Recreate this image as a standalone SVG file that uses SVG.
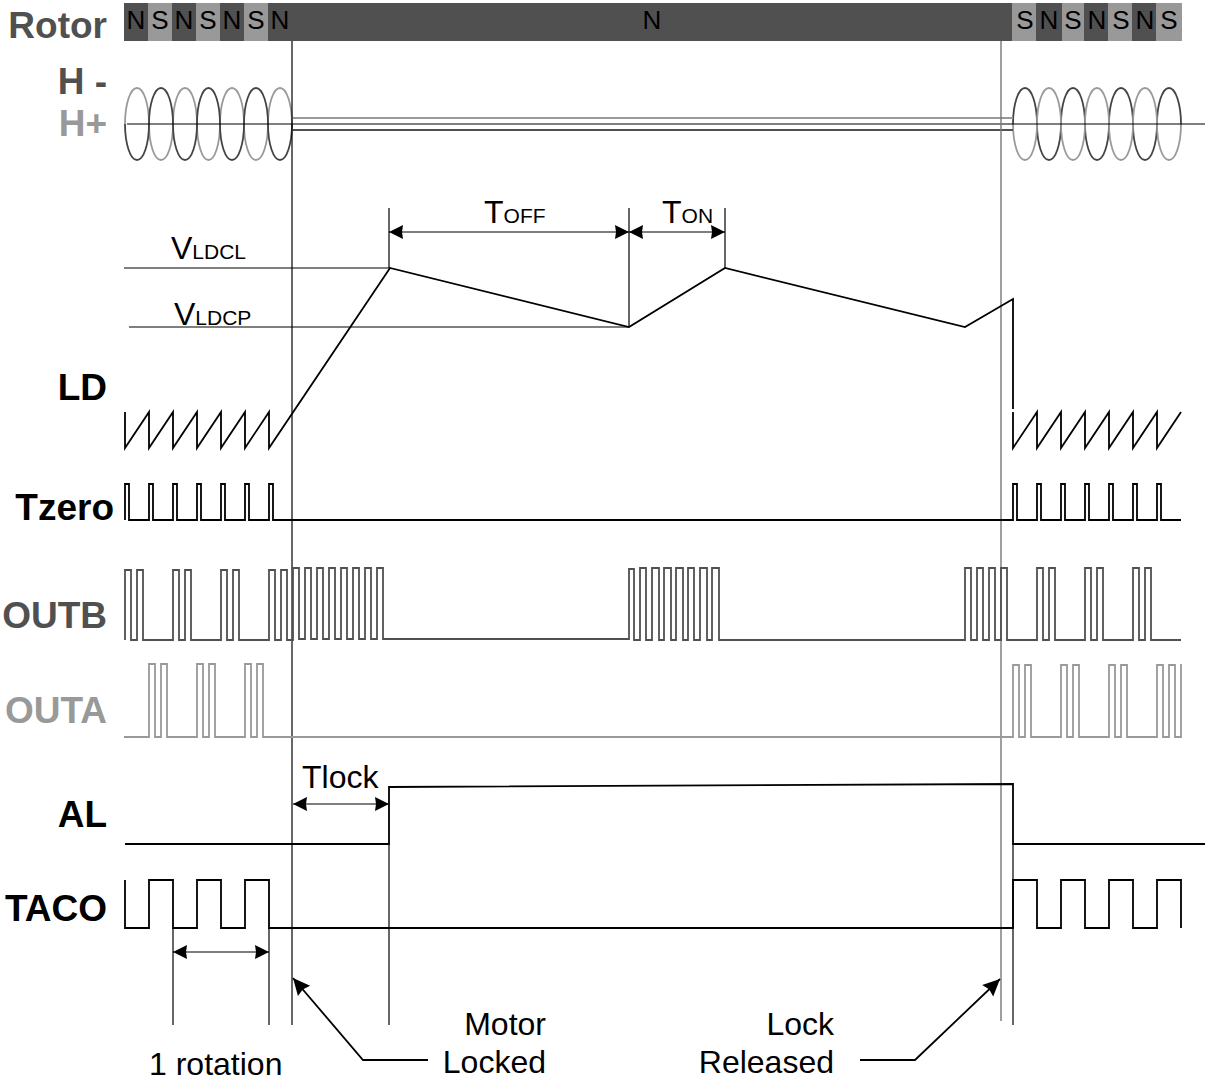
<svg xmlns="http://www.w3.org/2000/svg" width="1205" height="1081" viewBox="0 0 1205 1081">
<style>
text{font-family:"Liberation Sans",Arial,sans-serif;fill:#000}
.lab{font-size:37px;font-weight:bold;text-anchor:end}
.d{fill:#505050}.g{fill:#999}
.pole{font-size:26px;text-anchor:middle}
.t{font-size:32px}
.e{text-anchor:end}
.sub{font-size:21px}
path,polyline,line{fill:none;stroke-linejoin:miter}
.k{stroke:#000;stroke-width:1.8}
.dk{stroke:#505050;stroke-width:1.8}
.gy{stroke:#999;stroke-width:1.8}
.thin{stroke:#000;stroke-width:1.2}
.coilg{stroke:#999;stroke-width:1.8}
.coild{stroke:#444;stroke-width:1.8}
.arr{marker-start:url(#h);marker-end:url(#h)}
.big{marker-start:url(#b)}
</style>
<defs>
<marker id="h" markerUnits="userSpaceOnUse" viewBox="-15 -8 16 16" refX="0" refY="0" markerWidth="16" markerHeight="16" orient="auto-start-reverse"><path d="M0,0L-14,-7L-13,0L-14,7Z" style="fill:#000;stroke:none"/></marker>
<marker id="b" markerUnits="userSpaceOnUse" viewBox="-19 -10 20 20" refX="0" refY="0" markerWidth="20" markerHeight="20" orient="auto-start-reverse"><path d="M0,0L-17,-8L-15,0L-17,8Z" style="fill:#000;stroke:none"/></marker>
</defs>
<g id="rotor">
<rect x="124" y="3" width="1058" height="38" fill="#505050"/>
<g fill="#999"><rect x="148" y="3" width="24" height="38"/><rect x="196" y="3" width="24" height="38"/><rect x="244" y="3" width="24" height="38"/><rect x="1012" y="3" width="24" height="38"/><rect x="1062" y="3" width="22" height="38"/><rect x="1108" y="3" width="24" height="38"/><rect x="1156" y="3" width="26" height="38"/></g>
<g><text x="136" y="29" class="pole">N</text><text x="160" y="29" class="pole">S</text><text x="184" y="29" class="pole">N</text><text x="208" y="29" class="pole">S</text><text x="232" y="29" class="pole">N</text><text x="256" y="29" class="pole">S</text><text x="280" y="29" class="pole">N</text><text x="652" y="29" class="pole">N</text><text x="1025" y="29" class="pole">S</text><text x="1049" y="29" class="pole">N</text><text x="1073" y="29" class="pole">S</text><text x="1097" y="29" class="pole">N</text><text x="1121" y="29" class="pole">S</text><text x="1145" y="29" class="pole">N</text><text x="1169" y="29" class="pole">S</text></g>
</g>
<g id="labels">
<text x="107" y="38" class="lab d">Rotor</text>
<text x="107" y="94" class="lab d">H -</text>
<text x="107" y="136" class="lab g">H+</text>
<text x="107" y="400" class="lab">LD</text>
<text x="114" y="520" class="lab">Tzero</text>
<text x="107" y="628" class="lab d">OUTB</text>
<text x="107" y="723" class="lab g">OUTA</text>
<text x="107" y="827" class="lab">AL</text>
<text x="107" y="921" class="lab">TACO</text>
</g>
<g id="hall">
<path class="coilg" d="M125,124A12,36 0 0 1 149,124M173,124A12,36 0 0 1 197,124M220,124A12,36 0 0 1 244,124M268,124A12,36 0 0 1 292,124M149,124A12,36 0 0 0 173,124M197,124A11.5,36 0 0 0 220,124M244,124A12,36 0 0 0 268,124"/>
<path class="coild" d="M149,124A12,36 0 0 1 173,124M197,124A11.5,36 0 0 1 220,124M244,124A12,36 0 0 1 268,124M125,124A12,36 0 0 0 149,124M173,124A12,36 0 0 0 197,124M220,124A12,36 0 0 0 244,124M268,124A12,36 0 0 0 292,124"/>
<path class="coild" d="M1013,124A12,36 0 0 1 1037,124M1061,124A12,36 0 0 1 1085,124M1109,124A12,36 0 0 1 1133,124M1157,124A12,36 0 0 1 1181,124M1037,124A12,36 0 0 0 1061,124M1085,124A12,36 0 0 0 1109,124M1133,124A12,36 0 0 0 1157,124"/>
<path class="coilg" d="M1037,124A12,36 0 0 1 1061,124M1085,124A12,36 0 0 1 1109,124M1133,124A12,36 0 0 1 1157,124M1013,124A12,36 0 0 0 1037,124M1061,124A12,36 0 0 0 1085,124M1109,124A12,36 0 0 0 1133,124M1157,124A12,36 0 0 0 1181,124"/>
<line class="gy" x1="293" y1="118" x2="1013" y2="118"/>
<line class="dk" x1="293" y1="130" x2="1013" y2="130"/>
<line class="thin" x1="127" y1="124" x2="1205" y2="124"/>
</g>
<g id="connectors">
<line class="thin" x1="292" y1="41" x2="292" y2="1025"/>
<line x1="1001" y1="41" x2="1001" y2="1021" stroke="#777" stroke-width="1.4"/>
<line class="thin" x1="124" y1="268" x2="390" y2="268"/>
<line class="thin" x1="129" y1="327" x2="629" y2="327"/>
<line class="thin" x1="389" y1="208" x2="389" y2="268"/>
<line class="thin" x1="629" y1="208" x2="629" y2="327"/>
<line class="thin" x1="725" y1="208" x2="725" y2="268"/>
<line class="thin arr" x1="389" y1="232" x2="629" y2="232"/>
<line class="thin arr" x1="629" y1="232" x2="725" y2="232"/>
<line class="thin arr" x1="293" y1="804" x2="389" y2="804"/>
<line class="thin" x1="173" y1="928" x2="173" y2="1025"/>
<line class="thin" x1="269" y1="928" x2="269" y2="1025"/>
<line class="thin" x1="389" y1="844" x2="389" y2="1025"/>
<line class="thin" x1="1013" y1="844" x2="1013" y2="1025"/>
<line class="thin arr" x1="173" y1="952" x2="269" y2="952"/>
<polyline class="k big" points="293,978 363,1060 428,1060"/>
<polyline class="k big" points="1000,979 915,1060 860,1060"/>
</g>
<g id="LD">
<polyline class="k" points="125,412 125,448 149,412 149,448 173,412 173,448 197,412 197,448 221,412 221,448 245,412 245,448 269,412 269,448 390,268 629,327 725,268 965,327 1013,299 1013,409"/>
<polyline class="k" points="1013,412 1013,448 1037,412 1037,448 1061,412 1061,448 1085,412 1085,448 1109,412 1109,448 1133,412 1133,448 1157,412 1157,448 1181,412"/>
</g>
<g id="Tzero">
<polyline class="k" points="125,520 125,484 129,484 129,520 149,520 149,484 153,484 153,520 173,520 173,484 177,484 177,520 197,520 197,484 201,484 201,520 221,520 221,484 225,484 225,520 245,520 245,484 249,484 249,520 269,520 269,484 273,484 273,520 1013,520 1013,484 1017,484 1017,520 1037,520 1037,484 1041,484 1041,520 1061,520 1061,484 1065,484 1065,520 1085,520 1085,484 1089,484 1089,520 1109,520 1109,484 1113,484 1113,520 1133,520 1133,484 1137,484 1137,520 1157,520 1157,484 1161,484 1161,520 1181,520"/>
</g>
<g id="OUTB">
<polyline class="dk" points="125,640 125,570 131,570 131,640 137,640 137,570 143,570 143,640 173,640 173,570 179,570 179,640 185,640 185,570 191,570 191,640 221,640 221,570 227,570 227,640 233,640 233,570 239,570 239,640 269,640 269,570 275,570 275,640 281,640 281,570 287,570 287,640 293,640 293,568 299,568 299,639 305,639 305,568 311,568 311,639 317,639 317,568 323,568 323,639 329,639 329,568 335,568 335,639 341,639 341,568 347,568 347,639 353,639 353,568 359,568 359,639 365,639 365,568 371,568 371,639 377,639 377,568 383,568 383,639 629,639 629,569 634,569 634,640 640,640 640,568 646,568 646,640 652,640 652,568 659,568 659,640 664,640 664,568 671,568 671,640 676,640 676,568 683,568 683,640 688,640 688,568 694,568 694,640 700,640 700,568 707,568 707,640 712,640 712,568 719,568 719,640 965,640 965,568 971,568 971,640 977,640 977,568 983,568 983,640 989,640 989,568 995,568 995,640 1001,640 1001,568 1007,568 1007,640 1037,640 1037,568 1043,568 1043,640 1049,640 1049,568 1055,568 1055,640 1085,640 1085,568 1091,568 1091,640 1097,640 1097,568 1103,568 1103,640 1133,640 1133,568 1139,568 1139,640 1145,640 1145,568 1151,568 1151,640 1181,640"/>
</g>
<g id="OUTA">
<polyline class="gy" points="124,737 149,737 149,664 155,664 155,737 161,737 161,664 167,664 167,737 197,737 197,664 203,664 203,737 209,737 209,664 215,664 215,737 245,737 245,664 251,664 251,737 257,737 257,664 263,664 263,737 1013,737 1013,665 1019,665 1019,737 1025,737 1025,665 1031,665 1031,737 1061,737 1061,665 1067,665 1067,737 1073,737 1073,665 1079,665 1079,737 1109,737 1109,665 1115,665 1115,737 1121,737 1121,665 1127,665 1127,737 1157,737 1157,665 1163,665 1163,737 1169,737 1169,665 1175,665 1175,737 1181,737 1181,664"/>
</g>
<g id="AL">
<polyline class="k" points="125,844 389,844 389,787 1013,784 1013,844 1205,844"/>
</g>
<g id="TACO">
<polyline class="k" points="125,880 125,928 149,928 149,880 173,880 173,928 197,928 197,880 221,880 221,928 245,928 245,880 269,880 269,928 1013,928 1013,880 1037,880 1037,928 1061,928 1061,880 1085,880 1085,928 1109,928 1109,880 1133,880 1133,928 1157,928 1157,880 1181,880 1181,928"/>
</g>
<g id="annotations">
<text x="171" y="259" class="t">V<tspan class="sub">LDCL</tspan></text>
<text x="174" y="325" class="t">V<tspan class="sub">LDCP</tspan></text>
<text x="484" y="223" class="t">T<tspan class="sub">OFF</tspan></text>
<text x="662" y="223" class="t">T<tspan class="sub">ON</tspan></text>
<text x="302" y="788" class="t">Tlock</text>
<text x="149" y="1075" class="t">1 rotation</text>
<text x="546" y="1035" class="t e">Motor</text>
<text x="546" y="1073" class="t e">Locked</text>
<text x="834" y="1035" class="t e">Lock</text>
<text x="834" y="1073" class="t e">Released</text>
</g>
</svg>
